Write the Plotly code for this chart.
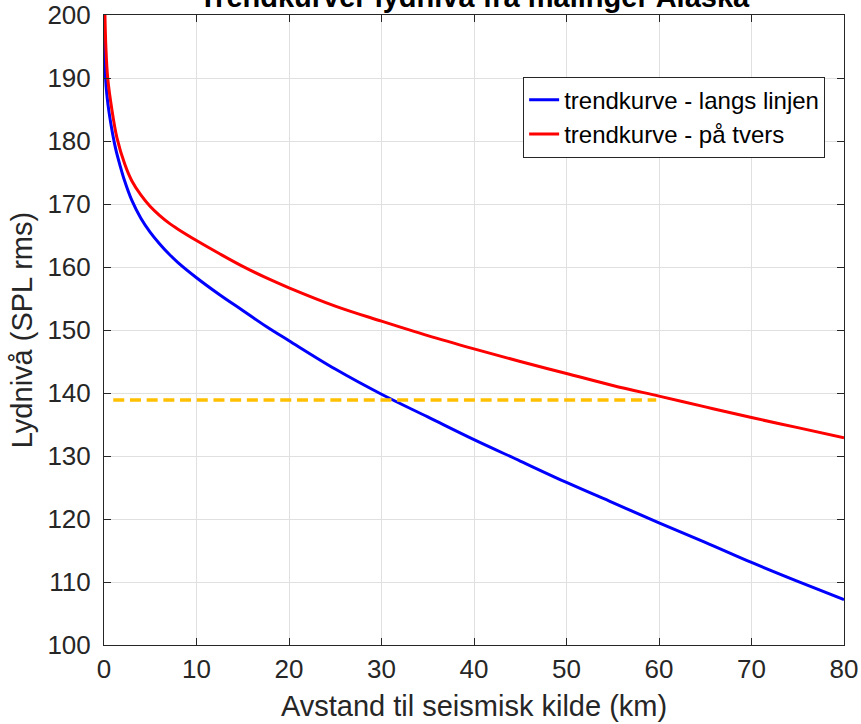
import plotly.graph_objects as go

# Distance (km) and sound level (dB)
blue_r = [0.03, 0.08, 0.17, 0.3, 0.55, 0.95, 1.3, 1.7, 2.2, 3, 4, 5, 6, 7, 8, 10, 12.5, 15, 17.5, 20, 25, 30,
          35, 40, 45, 50, 55, 60, 65, 70, 75, 80]
blue_L = [200, 195, 190, 187.5, 184.5, 181, 178.5, 176.3, 173.8, 170.6, 167.7, 165.5, 163.7, 162.1, 160.7, 158.3,
          155.6, 153.1, 150.6, 148.3, 143.8, 139.8, 136.2, 132.6, 129.2, 125.8, 122.6, 119.4, 116.3, 113.1, 110.1, 107.2]

red_r = [0.1, 0.2, 0.4, 0.85, 1.4, 2.25, 3, 4, 5, 6, 7, 8, 10, 12.5, 15, 17.5, 20, 25, 30, 35, 40, 45, 50, 55,
         60, 65, 70, 75, 80]
red_L = [200, 195, 190, 185, 180.5, 176.3, 173.7, 171.4, 169.6, 168.2, 167.0, 166.0, 164.2, 162.1, 160.1, 158.3,
         156.7, 153.8, 151.4, 149.1, 147.0, 145.0, 143.1, 141.2, 139.5, 137.8, 136.1, 134.5, 132.9]

thr_r = [1.0, 59.7]
thr_L = [138.9, 138.9]

x_ticks = [0, 10, 20, 30, 40, 50, 60, 70, 80]
y_ticks = [100, 110, 120, 130, 140, 150, 160, 170, 180, 190, 200]

title_text = "Trendkurver lydnivå fra målinger Alaska"
names = ["trendkurve - langs linjen", "trendkurve - på tvers"]

fig = go.Figure()
fig.add_trace(go.Scatter(x=blue_r, y=blue_L, mode="lines", name=names[0],
                         line=dict(color="#0000ff", width=3, shape="spline", smoothing=1.0)))
fig.add_trace(go.Scatter(x=red_r, y=red_L, mode="lines", name=names[1],
                         line=dict(color="#ff0000", width=3, shape="spline", smoothing=1.0)))
fig.add_trace(go.Scatter(x=thr_r, y=thr_L, mode="lines", showlegend=False,
                         line=dict(color="#ffc000", width=3.5, dash="11px,5.7px")))

font_fam = "Liberation Sans, Arial, Helvetica, sans-serif"
axis_common = dict(
    showline=True, linecolor="#262626", linewidth=1, mirror="ticks",
    ticks="inside", ticklen=7, tickcolor="#262626",
    showgrid=True, gridcolor="#e0e0e0", gridwidth=1, zeroline=False,
    automargin=False,
    tickfont=dict(family=font_fam, size=26, color="#262626"),
)

fig.update_layout(
    width=861, height=724,
    margin=dict(l=104, r=17, t=15, b=79),
    paper_bgcolor="white", plot_bgcolor="white",
    font=dict(family=font_fam, color="#262626"),
    xaxis=dict(range=[0, 80], tickvals=x_ticks, ticklabelstandoff=1,
               title=dict(text="Avstand til seismisk kilde (km)", font=dict(size=29, color="#262626"), standoff=12),
               **axis_common),
    yaxis=dict(range=[100, 200], tickvals=y_ticks, ticklabelstandoff=7,
               title=dict(text="Lydnivå (SPL rms)", font=dict(size=29, color="#262626"), standoff=6),
               **axis_common),
    legend=dict(x=0.9745, xanchor="right", y=0.902, yanchor="top",
                bgcolor="white", bordercolor="#262626", borderwidth=1,
                font=dict(family=font_fam, size=24, color="black"),
                tracegroupgap=0),
    showlegend=True,
)

fig.add_annotation(text="<b>" + title_text + "</b>", xref="paper", yref="paper",
                   x=0.5, y=1, xanchor="center", yanchor="bottom", yshift=0,
                   showarrow=False, font=dict(family=font_fam, size=29, color="black"))

fig.write_html("out.html", config={"displayModeBar": False},
               post_script="document.body.style.margin='0px';")
